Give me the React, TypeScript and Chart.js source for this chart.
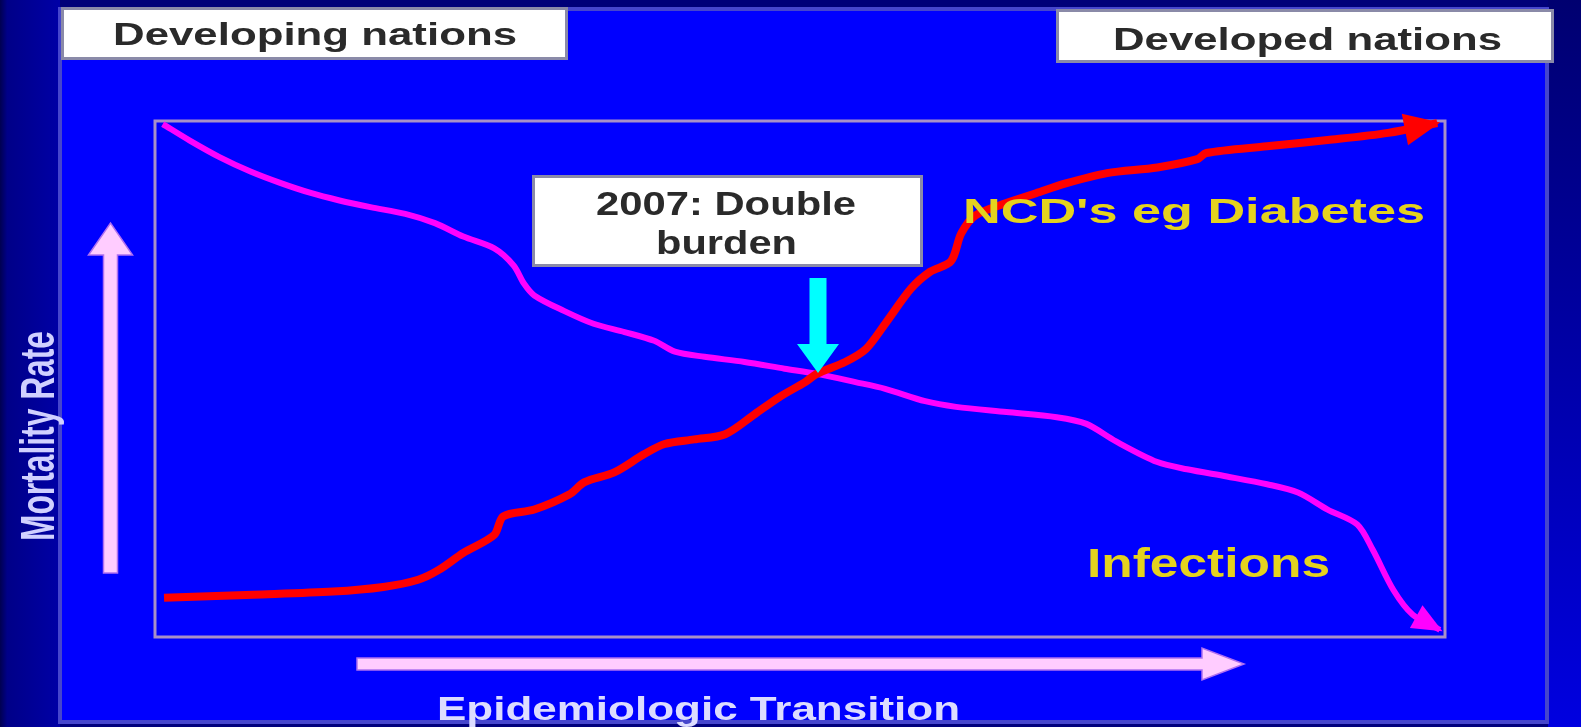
import { useEffect, useRef } from "react";
import { Chart, registerables } from "chart.js";

Chart.register(...registerables);

// ---- Data (positions inside the plot box, 0..100 on both axes) ----
const ncdX = [0.7, 7.6, 13.8, 17.7, 20.4, 22.0, 23.9, 26.3, 27.0, 29.4, 32.1, 33.3, 35.6, 37.9, 39.5, 41.8, 44.2, 46.5, 48.4, 50.4, 51.3, 53.5, 55.1, 56.6, 58.6, 60.1, 61.7, 62.5, 63.6, 66.0, 68.3, 70.6, 73.8, 77.7, 80.8, 81.5, 86.2, 90.9, 95.6, 99.4];
const ncdY = [7.6, 8.2, 8.8, 9.7, 11.1, 13.0, 16.3, 19.8, 23.4, 24.7, 27.6, 30.0, 31.9, 35.4, 37.4, 38.3, 39.3, 43.2, 46.5, 49.4, 51.0, 53.3, 55.8, 60.7, 67.5, 70.8, 72.8, 78.2, 81.7, 84.1, 86.0, 87.9, 89.9, 91.0, 92.6, 93.8, 95.1, 96.3, 97.7, 99.6];

const infX = [0.6, 2.7, 5.0, 7.4, 9.7, 12.0, 14.3, 16.7, 19.4, 21.7, 23.9, 26.3, 27.8, 28.6, 29.4, 31.7, 34.0, 36.4, 38.7, 40.3, 42.6, 45.7, 48.8, 51.3, 54.3, 56.6, 59.7, 62.1, 66.0, 69.9, 72.2, 74.5, 77.7, 80.0, 83.1, 86.2, 88.6, 90.9, 93.2, 94.4, 96.0, 97.5, 99.6];
const infY = [99.4, 96.2, 93.0, 90.2, 88.0, 86.1, 84.6, 83.3, 82.0, 80.2, 77.6, 75.3, 72.0, 68.5, 66.2, 63.2, 60.7, 59.1, 57.4, 55.3, 54.3, 53.3, 52.0, 51.0, 49.4, 48.1, 45.7, 44.6, 43.6, 42.6, 41.3, 37.9, 33.9, 32.5, 31.1, 29.6, 28.0, 24.7, 21.8, 16.9, 9.1, 4.3, 1.4];

// ---- Text ----
const topLeftLabel = "Developing nations";
const topRightLabel = "Developed nations";
const calloutLines = ["2007: Double", "burden"];
const ncdLabel = "NCD's eg Diabetes";
const infLabel = "Infections";
const xAxisLabel = "Epidemiologic Transition";
const yAxisLabel = "Mortality Rate";

const W = 1581;
const H = 727;
const FONT = "'Liberation Sans', Arial, sans-serif";

function stretchText(ctx: CanvasRenderingContext2D, text: string, x0: number, x1: number, baseline: number, size: number, color: string) {
  ctx.save();
  ctx.font = `bold ${size}px ${FONT}`;
  const w = ctx.measureText(text).width;
  const sx = (x1 - x0) / w;
  ctx.translate(x0, baseline);
  ctx.scale(sx, 1);
  ctx.fillStyle = color;
  ctx.textAlign = "left";
  ctx.textBaseline = "alphabetic";
  ctx.fillText(text, 0, 0);
  ctx.restore();
}

function blockArrow(ctx: CanvasRenderingContext2D, x0: number, y0: number, x1: number, y1: number, shaftW: number, headW: number, headL: number, fill: string, stroke?: string) {
  const dx = x1 - x0, dy = y1 - y0;
  const len = Math.hypot(dx, dy);
  const ux = dx / len, uy = dy / len;
  const nx = -uy, ny = ux;
  const bx = x1 - ux * headL, by = y1 - uy * headL;
  ctx.save();
  ctx.beginPath();
  ctx.moveTo(x0 + nx * shaftW / 2, y0 + ny * shaftW / 2);
  ctx.lineTo(bx + nx * shaftW / 2, by + ny * shaftW / 2);
  ctx.lineTo(bx + nx * headW / 2, by + ny * headW / 2);
  ctx.lineTo(x1, y1);
  ctx.lineTo(bx - nx * headW / 2, by - ny * headW / 2);
  ctx.lineTo(bx - nx * shaftW / 2, by - ny * shaftW / 2);
  ctx.lineTo(x0 - nx * shaftW / 2, y0 - ny * shaftW / 2);
  ctx.closePath();
  ctx.fillStyle = fill;
  ctx.fill();
  if (stroke) {
    ctx.strokeStyle = stroke;
    ctx.lineWidth = 1.5;
    ctx.stroke();
  }
  ctx.restore();
}

function whiteBox(ctx: CanvasRenderingContext2D, x0: number, y0: number, x1: number, y1: number) {
  ctx.save();
  ctx.fillStyle = "#ffffff";
  ctx.fillRect(x0, y0, x1 - x0, y1 - y0);
  ctx.strokeStyle = "#8a8aa8";
  ctx.lineWidth = 3;
  ctx.strokeRect(x0 + 1.5, y0 + 1.5, x1 - x0 - 3, y1 - y0 - 3);
  ctx.restore();
}

const slidePlugin = {
  id: "slideDecor",
  beforeDraw(chart: any) {
    const ctx: CanvasRenderingContext2D = chart.ctx;
    ctx.save();
    ctx.fillStyle = "#00007c";
    ctx.fillRect(0, 0, W, H);
    const gl = ctx.createLinearGradient(0, 0, 60, 0);
    gl.addColorStop(0, "#000050");
    gl.addColorStop(0.12, "#000088");
    gl.addColorStop(1, "#0000a6");
    ctx.fillStyle = gl;
    ctx.fillRect(0, 0, 60, H);
    const gr = ctx.createLinearGradient(0, 0, 0, H);
    gr.addColorStop(0, "#000070");
    gr.addColorStop(1, "#0000e0");
    ctx.fillStyle = gr;
    ctx.fillRect(1548, 0, W - 1548, H);
    ctx.fillStyle = "#000078";
    ctx.fillRect(60, 0, 1488, 8);
    // main blue panel
    ctx.fillStyle = "#0000ff";
    ctx.fillRect(60, 8, 1488, 715);
    ctx.strokeStyle = "#4646cc";
    ctx.lineWidth = 4;
    ctx.strokeRect(60, 9, 1487, 713);
    ctx.restore();

    // top boxes
    whiteBox(ctx, 61, 7, 568, 60);
    whiteBox(ctx, 1056, 9, 1554, 63);
    stretchText(ctx, topLeftLabel, 113, 517, 45, 32, "#2a2a2a");
    stretchText(ctx, topRightLabel, 1113, 1502, 50, 32, "#2a2a2a");

    // callout box
    whiteBox(ctx, 532, 175, 923, 267);
    stretchText(ctx, calloutLines[0], 596, 856, 215, 34, "#2a2a2a");
    stretchText(ctx, calloutLines[1], 656, 797, 254, 34, "#2a2a2a");

    // plot frame
    const a = chart.chartArea;
    ctx.save();
    ctx.strokeStyle = "#a890c8";
    ctx.lineWidth = 3;
    ctx.strokeRect(a.left, a.top, a.right - a.left, a.bottom - a.top);
    ctx.restore();

    // axis arrows
    blockArrow(ctx, 110.5, 573, 110.5, 223, 14, 44, 32, "#ffccff", "#b070f0");
    blockArrow(ctx, 357, 664, 1244, 664, 12, 32, 42, "#ffccff", "#b070f0");

    // axis labels
    stretchText(ctx, xAxisLabel, 437, 960, 720, 34, "#dcdcff");
    ctx.save();
    ctx.translate(54, 541);
    ctx.rotate(-Math.PI / 2);
    ctx.font = `bold 32px ${FONT}`;
    const wv = ctx.measureText(yAxisLabel).width;
    ctx.scale(210 / wv, 1.5);
    ctx.fillStyle = "#d0d0ff";
    ctx.textBaseline = "alphabetic";
    ctx.fillText(yAxisLabel, 0, 0);
    ctx.restore();
  },
  afterDatasetsDraw(chart: any) {
    const ctx: CanvasRenderingContext2D = chart.ctx;
    const heads = [
      { idx: 0, color: "#ff0000", len: 36, wid: 32, back: 3 },
      { idx: 1, color: "#ff00ff", len: 30, wid: 26, back: 3 },
    ];
    heads.forEach((h) => {
      const pts = chart.getDatasetMeta(h.idx).data;
      const p1 = pts[pts.length - 1];
      const p0 = pts[pts.length - 2];
      const dx = p1.x - p0.x, dy = p1.y - p0.y;
      const l = Math.hypot(dx, dy);
      const ux = dx / l, uy = dy / l;
      const tx = p1.x + ux * h.back, ty = p1.y + uy * h.back;
      const bx = tx - ux * h.len, by = ty - uy * h.len;
      ctx.save();
      ctx.beginPath();
      ctx.moveTo(tx, ty);
      ctx.lineTo(bx - uy * h.wid / 2, by + ux * h.wid / 2);
      ctx.lineTo(bx + uy * h.wid / 2, by - ux * h.wid / 2);
      ctx.closePath();
      ctx.fillStyle = h.color;
      ctx.fill();
      ctx.restore();
    });

    // cyan arrow
    blockArrow(ctx, 818, 278, 818, 373, 17, 42, 29, "#00ffff");

    // series labels
    stretchText(ctx, ncdLabel, 963, 1425, 223, 35, "#e4d21e");
    stretchText(ctx, infLabel, 1087, 1330, 577, 40, "#e4d21e");
  },
};

export default function App() {
  const ref = useRef<HTMLCanvasElement | null>(null);
  useEffect(() => {
    if (!ref.current) return;
    const ncd = ncdX.map((x, i) => ({ x, y: ncdY[i] }));
    const inf = infX.map((x, i) => ({ x, y: infY[i] }));
    const chart = new Chart(ref.current, {
      type: "line",
      data: {
        datasets: [
          { label: ncdLabel, data: ncd, borderColor: "#ff0000", borderWidth: 8, pointRadius: 0, tension: 0.3, clip: false as any, borderCapStyle: "butt" },
          { label: infLabel, data: inf, borderColor: "#ff00ff", borderWidth: 6, pointRadius: 0, tension: 0.3, clip: false as any, borderCapStyle: "butt" },
        ],
      },
      options: {
        responsive: false,
        maintainAspectRatio: false,
        devicePixelRatio: 1,
        animation: false,
        layout: { padding: { left: 155, right: W - 1445, top: 121, bottom: H - 637 } },
        scales: {
          x: { type: "linear", min: 0, max: 100, display: false },
          y: { type: "linear", min: 0, max: 100, display: false },
        },
        plugins: { legend: { display: false }, tooltip: { enabled: false }, title: { display: false } },
      },
      plugins: [slidePlugin],
    });
    return () => chart.destroy();
  }, []);
  return (
    <div style={{ position: "fixed", left: 0, top: 0, width: W, height: H }}>
      <canvas ref={ref} width={W} height={H} style={{ display: "block", width: W, height: H }} />
    </div>
  );
}
